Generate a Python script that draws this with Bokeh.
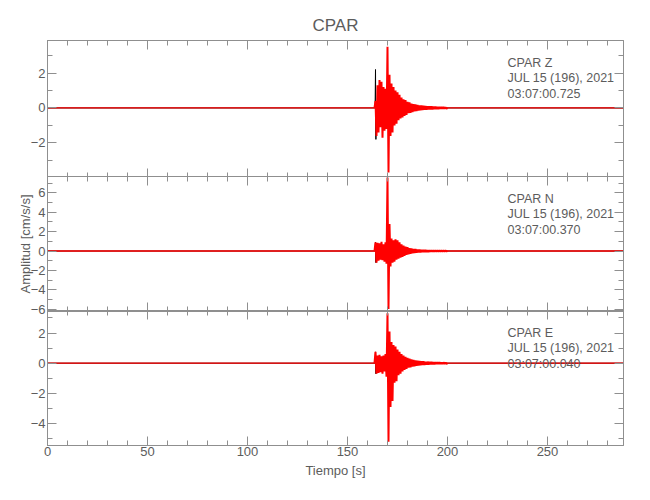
from bokeh.plotting import figure
from bokeh.models import Range1d, LinearAxis, FixedTicker, Label
from bokeh.layouts import column
from bokeh.embed import file_html
from bokeh.resources import INLINE

# ---------------- data ----------------
TITLE = "CPAR"
X_LABEL = "Tiempo [s]"
Y_LABEL = "Amplitud [cm/s/s]"
X_TICKS = [0, 50, 100, 150, 200, 250]
X_MINOR = [0, 10, 20, 30, 40, 50, 60, 70, 80, 90, 100, 110, 120, 130, 140, 150, 160, 170,
           180, 190, 200, 210, 220, 230, 240, 250, 260, 270, 280]
Y_TICKS = [-6, -4, -2, 0, 2, 4, 6]
Y_MINOR = [-7, -6, -5, -4, -3, -2, -1, 0, 1, 2, 3, 4, 5, 6, 7]

COMPONENTS = ["Z", "N", "E"]
HEADERS = ["CPAR   Z", "CPAR   N", "CPAR   E"]
DATE_TEXT = "JUL 15 (196), 2021"
START_TIMES = ["03:07:00.725", "03:07:00.370", "03:07:00.040"]

T_START, T_END = 0.0, 288.0          # record limits [s]
EVENT_T0, EVENT_DT = 164.0, 0.5      # first sample of the event window, sample step [s]

# amplitude samples of the event window (cm/s/s)
Z_EVENT = [0.4, -1.6, 1.3, -1.4, 1.6, -1.1, 1.5, -1.7, 1.2, -1.3, 1.1, -1.2,
           3.5, -3.7, 1.9, -1.6, 1.4, -1.4, 1.2, -1.0, 1.0, -0.9, 0.9, -0.7,
           0.75, -0.6, 0.6, -0.55, 0.5, -0.45, 0.45, -0.4, 0.35, -0.3, 0.32, -0.28,
           0.25, -0.24, 0.22, -0.2, 0.2, -0.18, 0.17, -0.15, 0.15, -0.13, 0.14, -0.12,
           0.12, -0.1, 0.11, -0.1, 0.1, -0.09, 0.09, -0.08, 0.09, -0.08, 0.08, -0.07,
           0.07, -0.07, 0.06, -0.06, 0.06, -0.05, 0.05, -0.05, 0.05, -0.04, 0.04, -0.04]
N_EVENT = [0.9, -1.2, 0.85, -1.0, 0.8, -0.9, 0.95, -0.95, 0.7, -1.1, 0.9, -1.3,
           7.6, -6.0, 2.8, -1.6, 1.3, -1.2, 1.1, -1.1, 1.2, -0.9, 1.1, -0.8,
           0.9, -0.7, 0.7, -0.6, 0.55, -0.5, 0.45, -0.4, 0.4, -0.35, 0.3, -0.28,
           0.26, -0.24, 0.22, -0.2, 0.2, -0.18, 0.16, -0.15, 0.14, -0.13, 0.12, -0.12,
           0.11, -0.1, 0.1, -0.1, 0.09, -0.09, 0.08, -0.08, 0.08, -0.07, 0.07, -0.07,
           0.06, -0.06, 0.06, -0.05, 0.05, -0.05, 0.05, -0.04, 0.04, -0.04, 0.04, -0.03]
E_EVENT = [0.75, -0.7, 0.5, -0.65, 0.55, -0.6, 0.45, -0.7, 0.5, -0.55, 0.6, -0.9,
           3.3, -5.2, 2.1, -2.9, 1.4, -2.5, 1.2, -1.3, 1.1, -1.2, 0.9, -0.8,
           0.75, -0.7, 0.6, -0.55, 0.5, -0.45, 0.42, -0.38, 0.35, -0.3, 0.3, -0.27,
           0.25, -0.22, 0.22, -0.2, 0.19, -0.17, 0.16, -0.15, 0.15, -0.13, 0.13, -0.12,
           0.12, -0.11, 0.1, -0.1, 0.1, -0.09, 0.09, -0.08, 0.08, -0.07, 0.07, -0.07,
           0.07, -0.06, 0.06, -0.06, 0.06, -0.05, 0.05, -0.05, 0.05, -0.04, 0.04, -0.04]
EVENTS = [Z_EVENT, N_EVENT, E_EVENT]

# onset spike of the unfiltered (black) trace
ONSET_T = [163.8, 164.0, 164.2, 164.4]
ONSET_Z = [0.0, 2.2, -1.8, 0.0]
ONSET_N = [0.0, 0.9, -1.2, 0.0]
ONSET_E = [0.0, 0.75, -0.7, 0.0]
ONSETS = [ONSET_Z, ONSET_N, ONSET_E]

# y ranges of each panel
Y_RANGES = [(-3.98, 3.86), (-6.25, 7.7), (-5.45, 3.49)]

# ---------------- styling ----------------
FONT = "Liberation Sans"
AX = "#8f8f8f"
TXT = "#5c5c5c"
FRAME_W = 576
FRAME_HS = [137, 135, 135]
PAD = 12   # transparent overlap so the "-6" label of panel N is not cut


def style_axis(axis, ticker, labels):
    axis.ticker = ticker
    axis.axis_line_color = AX
    axis.major_tick_line_color = AX
    axis.minor_tick_line_color = AX
    axis.major_tick_in = 9
    axis.major_tick_out = 0
    axis.minor_tick_in = 5
    axis.minor_tick_out = 0
    if labels:
        axis.major_label_text_font = FONT
        axis.major_label_text_font_size = "13px"
        axis.major_label_text_color = TXT
        axis.major_label_standoff = 2
    else:
        axis.major_label_text_color = None
        axis.major_label_text_font_size = "0px"
        axis.major_label_standoff = 0


x_range = Range1d(T_START, T_END)
panels = []
borders = [(40, 0), (0, PAD), (PAD, 40)]
margins = [None, (-1, 0, 0, 0), (-2 * PAD - 1, 0, 0, 0)]
for i in range(3):
    lo, hi = Y_RANGES[i]
    top, bottom = borders[i]
    p = figure(frame_width=FRAME_W, frame_height=FRAME_HS[i],
               x_range=x_range, y_range=Range1d(lo, hi),
               x_axis_location=None, y_axis_location=None,
               output_backend="svg", toolbar_location=None,
               min_border_left=47, min_border_right=10,
               min_border_top=top, min_border_bottom=bottom)
    p.grid.visible = False
    p.outline_line_color = AX
    p.background_fill_color = None
    p.border_fill_color = None
    if margins[i] is not None:
        p.margin = margins[i]

    xt = FixedTicker(ticks=X_TICKS, minor_ticks=X_MINOR)
    yt = FixedTicker(ticks=Y_TICKS, minor_ticks=Y_MINOR)

    left = LinearAxis()
    style_axis(left, yt, True)
    if i == 1:
        left.axis_label = Y_LABEL
        left.axis_label_text_font = FONT
        left.axis_label_text_font_size = "13px"
        left.axis_label_text_font_style = "normal"
        left.axis_label_text_color = TXT
        left.axis_label_standoff = -5
    p.add_layout(left, "left")

    right = LinearAxis()
    style_axis(right, yt, False)
    p.add_layout(right, "right")

    above = LinearAxis()
    style_axis(above, xt, False)
    p.add_layout(above, "above")

    below = LinearAxis()
    style_axis(below, xt, i == 2)
    if i == 2:
        below.major_label_standoff = 1
        below.axis_label = X_LABEL
        below.axis_label_text_font = FONT
        below.axis_label_text_font_size = "13px"
        below.axis_label_text_font_style = "normal"
        below.axis_label_text_color = TXT
        below.axis_label_standoff = 4
    p.add_layout(below, "below")

    if i == 0:
        p.title.text = TITLE
        p.title.align = "center"
        p.title.text_font = FONT
        p.title.text_font_size = "17px"
        p.title.text_font_style = "normal"
        p.title.text_color = TXT
        p.title.standoff = 12

    # traces
    ev = EVENTS[i]
    ev_t = [EVENT_T0 + k * EVENT_DT for k in range(len(ev))]
    p.line([T_START] + ONSET_T + [T_END], [0.0] + ONSETS[i] + [0.0],
           line_color="black", line_width=1)
    # quiet part of the record, then the event window
    p.line([T_START, T_END], [0.0, 0.0], line_color="red", line_width=1.3)
    p.line([EVENT_T0 - EVENT_DT] + ev_t + [ev_t[-1] + EVENT_DT], [0.0] + ev + [0.0],
           line_color="red", line_width=2)

    # header text
    per_px = (hi - lo) / FRAME_HS[i]
    for k, txt in enumerate([HEADERS[i], DATE_TEXT, START_TIMES[i]]):
        p.add_layout(Label(x=230, y=hi - (22 + 15.5 * k) * per_px, text=txt,
                           text_font=FONT, text_font_size="12.5px", text_color=TXT,
                           text_baseline="middle", text_align="left"))
    panels.append(p)

layout = column(*panels, spacing=0)
open("out.html", "w").write(file_html(layout, INLINE))
